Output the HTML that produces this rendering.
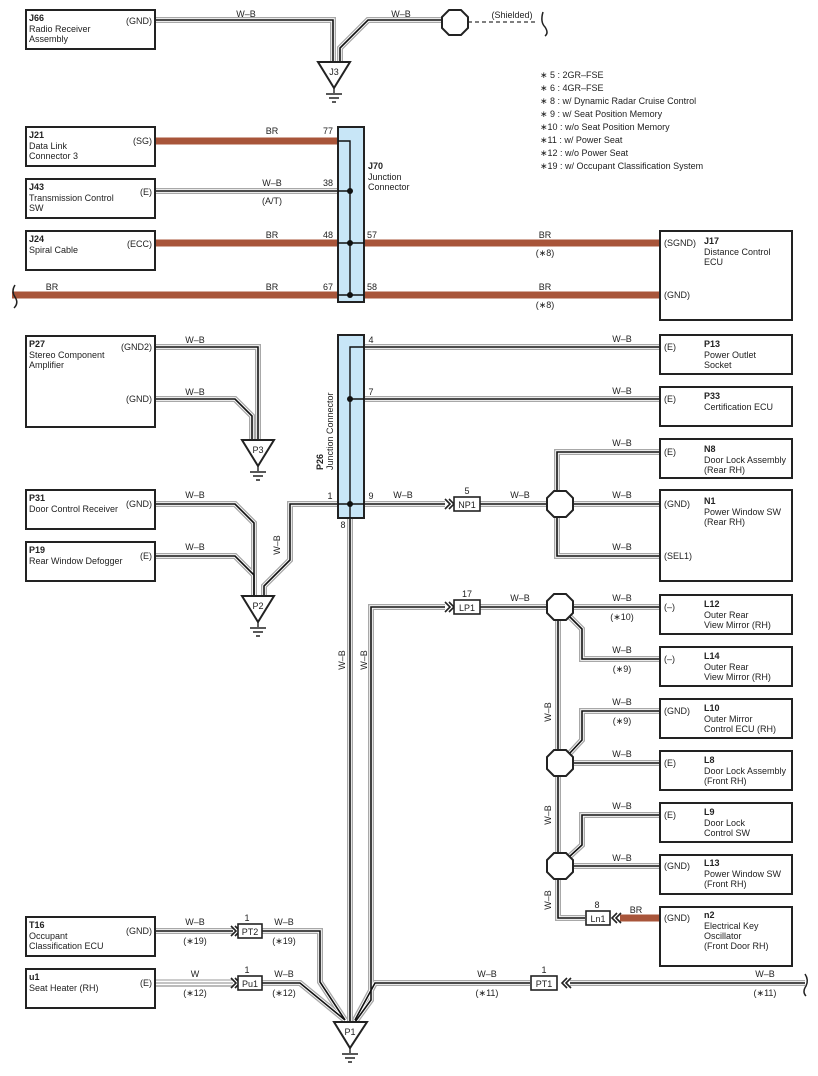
<!DOCTYPE html>
<html><head><meta charset="utf-8"><style>
html,body{margin:0;padding:0;background:#fff}
svg{display:block}
text{font-family:"Liberation Sans",sans-serif;font-size:9px;fill:#222}
.b{font-weight:bold}
.w0{fill:none;stroke:#a8a8a8;stroke-width:6}
.w1{fill:none;stroke:#fff;stroke-width:3.4}
.w2{fill:none;stroke:#111;stroke-width:1.6}
.br{fill:none;stroke:#a8553a;stroke-width:7}
.bx{fill:#fff;stroke:#222;stroke-width:2}
.oc{fill:#fff;stroke:#222;stroke-width:2}
.c{text-anchor:middle}
.r{text-anchor:end}
</style></head><body>
<svg width="818" height="1076" viewBox="0 0 818 1076" xmlns="http://www.w3.org/2000/svg">
<defs>
<g id="wires">
<path d="M155 20 H333 V62"/>
<path d="M443 20 H368 L340 48 V62"/>
<path d="M155 191 H338"/>
<path d="M155 347 H258 V440"/>
<path d="M155 399 H235 L252 416 V440"/>
<path d="M155 504 H235 L254 523 V596"/>
<path d="M155 556 H235 L254 575 V596"/>
<path d="M338 504 H290 V560 L264 586 V596"/>
<path d="M364 347 H660"/>
<path d="M364 399 H660"/>
<path d="M364 504 H445"/>
<path d="M480 504 H547"/>
<path d="M573 504 H660"/>
<path d="M660 452 H557 V491"/>
<path d="M660 556 H557 V517"/>
<path d="M350 518 V1022"/>
<path d="M445 607 H371 V1000 L355 1022"/>
<path d="M480 607 H547"/>
<path d="M573 607 H660"/>
<path d="M570 617 L582 629 V659 H660"/>
<path d="M660 711 H582 V740 L569 754"/>
<path d="M573 763 H660"/>
<path d="M660 815 H582 V845 L569 857"/>
<path d="M573 866 H660"/>
<path d="M558 620 V750"/>
<path d="M558 776 V853"/>
<path d="M558 879 V918 H585"/>
<path d="M155 931 H233"/>
<path d="M262 931 H320 V982 L345 1020"/>
<path d="M262 983 H300 L345 1020"/>
<path d="M530 983 H375 L355 1020"/>
<path d="M570 983 H805"/>
</g>
</defs>
<use href="#wires" class="w0"/>
<use href="#wires" class="w1"/>
<use href="#wires" class="w2"/>
<path d="M155 983 H233" fill="none" stroke="#fff" stroke-width="3"/>
<path d="M155 980 H233" fill="none" stroke="#999" stroke-width="1"/>
<path d="M155 986 H233" fill="none" stroke="#bbb" stroke-width="2"/>
<path d="M155 983 H233" fill="none" stroke="#888" stroke-width="1"/>
<path class="br" d="M155 141 H338"/>
<path class="br" d="M155 243 H338 M364 243 H660"/>
<path class="br" d="M12 295 H338 M364 295 H660"/>
<path class="br" d="M620 918 H660"/>
<path d="M468 22 H538" stroke="#555" stroke-width="1.5" stroke-dasharray="4,3" fill="none"/>
<path d="M543 12 Q540 22 545 27 Q549 33 545 36" stroke="#222" stroke-width="1.5" fill="none"/>
<path d="M15 285 Q11 291 15 297 Q19 303 14 308" stroke="#222" stroke-width="1.5" fill="none"/>
<path d="M805 974 Q809 980 806 986 Q802 992 806 996" stroke="#222" stroke-width="1.5" fill="none"/>
<rect class="bx" x="26" y="10" width="129" height="39"/>
<rect class="bx" x="26" y="127" width="129" height="39"/>
<rect class="bx" x="26" y="179" width="129" height="39"/>
<rect class="bx" x="26" y="231" width="129" height="39"/>
<rect class="bx" x="26" y="336" width="129" height="91"/>
<rect class="bx" x="26" y="490" width="129" height="39"/>
<rect class="bx" x="26" y="542" width="129" height="39"/>
<rect class="bx" x="26" y="917" width="129" height="39"/>
<rect class="bx" x="26" y="969" width="129" height="39"/>
<rect class="bx" x="660" y="231" width="132" height="89"/>
<rect class="bx" x="660" y="335" width="132" height="39"/>
<rect class="bx" x="660" y="387" width="132" height="39"/>
<rect class="bx" x="660" y="439" width="132" height="39"/>
<rect class="bx" x="660" y="490" width="132" height="91"/>
<rect class="bx" x="660" y="595" width="132" height="39"/>
<rect class="bx" x="660" y="647" width="132" height="39"/>
<rect class="bx" x="660" y="699" width="132" height="39"/>
<rect class="bx" x="660" y="751" width="132" height="39"/>
<rect class="bx" x="660" y="803" width="132" height="39"/>
<rect class="bx" x="660" y="855" width="132" height="39"/>
<rect class="bx" x="660" y="907" width="132" height="59"/>
<rect x="338" y="127" width="26" height="175" fill="#c8e6f7" stroke="#222" stroke-width="2"/>
<path d="M338 141 H350 V295 M338 191 H350 M338 243 H364 M338 295 H364" stroke="#111" stroke-width="1.4" fill="none"/>
<circle cx="350" cy="191" r="3" fill="#111"/><circle cx="350" cy="243" r="3" fill="#111"/><circle cx="350" cy="295" r="3" fill="#111"/>
<rect x="338" y="335" width="26" height="183" fill="#c8e6f7" stroke="#222" stroke-width="2"/>
<path d="M364 347 H350 V518 M350 399 H364 M338 504 H364" stroke="#111" stroke-width="1.4" fill="none"/>
<circle cx="350" cy="399" r="3" fill="#111"/><circle cx="350" cy="504" r="3" fill="#111"/>
<g stroke="#222" stroke-width="2" fill="#fff">
<path d="M318 62 H350 L334 88 Z"/>
<path d="M242 440 H274 L258 466 Z"/>
<path d="M242 596 H274 L258 622 Z"/>
<path d="M334 1022 H367 L350 1048 Z"/>
</g>
<g stroke="#222" stroke-width="1.4" fill="none">
<path d="M334 88 V93 M326 94 H342 M329 98 H339 M332 102 H336"/>
<path d="M258 466 V471 M250 472 H266 M253 476 H263 M256 480 H260"/>
<path d="M258 622 V627 M250 628 H266 M253 632 H263 M256 636 H260"/>
<path d="M350 1048 V1053 M342 1054 H358 M345 1058 H355 M348 1062 H352"/>
</g>
<g class="oc">
<path class="oc" d="M449 10 H461 L468 17 V28 L461 35 H449 L442 28 V17 Z"/>
<path class="oc" d="M554 491 H566 L573 498 V510 L566 517 H554 L547 510 V498 Z"/>
<path class="oc" d="M554 594 H566 L573 601 V613 L566 620 H554 L547 613 V601 Z"/>
<path class="oc" d="M554 750 H566 L573 757 V769 L566 776 H554 L547 769 V757 Z"/>
<path class="oc" d="M554 853 H566 L573 860 V872 L566 879 H554 L547 872 V860 Z"/>
</g>
<g stroke="#222" stroke-width="1.6" fill="none">
<path d="M445 499 L450 504 L445 509 M449 499 L454 504 L449 509"/>
<path d="M445 602 L450 607 L445 612 M449 602 L454 607 L449 612"/>
<path d="M231 926 L236 931 L231 936 M235 926 L240 931 L235 936"/>
<path d="M231 978 L236 983 L231 988 M235 978 L240 983 L235 988"/>
<path d="M567 978 L562 983 L567 988 M571 978 L566 983 L571 988"/>
<path d="M617 913 L612 918 L617 923 M621 913 L616 918 L621 923"/>
</g>
<g fill="#fff" stroke="#222" stroke-width="1.6">
<rect x="454" y="497" width="26" height="14"/>
<rect x="454" y="600" width="26" height="14"/>
<rect x="238" y="924" width="24" height="14"/>
<rect x="238" y="976" width="24" height="14"/>
<rect x="531" y="976" width="26" height="14"/>
<rect x="586" y="911" width="24" height="14"/>
</g>
<text x="467" y="508" class="c">NP1</text><text x="467" y="494" class="c">5</text>
<text x="467" y="611" class="c">LP1</text><text x="467" y="597" class="c">17</text>
<text x="250" y="935" class="c">PT2</text><text x="247" y="921" class="c">1</text>
<text x="250" y="987" class="c">Pu1</text><text x="247" y="973" class="c">1</text>
<text x="544" y="987" class="c">PT1</text><text x="544" y="973" class="c">1</text>
<text x="598" y="922" class="c">Ln1</text><text x="597" y="908" class="c">8</text>
<text x="334" y="75" class="c">J3</text><text x="258" y="453" class="c">P3</text><text x="258" y="609" class="c">P2</text><text x="350" y="1035" class="c">P1</text>
<text x="29" y="21" class="b">J66</text><text x="29" y="32">Radio Receiver</text><text x="29" y="42">Assembly</text><text x="152" y="24" class="r">(GND)</text>
<text x="29" y="138" class="b">J21</text><text x="29" y="149">Data Link</text><text x="29" y="159">Connector 3</text><text x="152" y="144" class="r">(SG)</text>
<text x="29" y="190" class="b">J43</text><text x="29" y="201">Transmission Control</text><text x="29" y="211">SW</text><text x="152" y="195" class="r">(E)</text>
<text x="29" y="242" class="b">J24</text><text x="29" y="253">Spiral Cable</text><text x="152" y="247" class="r">(ECC)</text>
<text x="29" y="347" class="b">P27</text><text x="29" y="358">Stereo Component</text><text x="29" y="368">Amplifier</text><text x="152" y="350" class="r">(GND2)</text><text x="152" y="402" class="r">(GND)</text>
<text x="29" y="501" class="b">P31</text><text x="29" y="512">Door Control Receiver</text><text x="152" y="507" class="r">(GND)</text>
<text x="29" y="553" class="b">P19</text><text x="29" y="564">Rear Window Defogger</text><text x="152" y="559" class="r">(E)</text>
<text x="29" y="928" class="b">T16</text><text x="29" y="939">Occupant</text><text x="29" y="949">Classification ECU</text><text x="152" y="934" class="r">(GND)</text>
<text x="29" y="980" class="b">u1</text><text x="29" y="991">Seat Heater (RH)</text><text x="152" y="986" class="r">(E)</text>
<g>
<text x="664" y="246">(SGND)</text><text x="664" y="298">(GND)</text><text x="704" y="244" class="b">J17</text><text x="704" y="255">Distance Control</text><text x="704" y="265">ECU</text>
<text x="664" y="350">(E)</text><text x="704" y="347" class="b">P13</text><text x="704" y="358">Power Outlet</text><text x="704" y="368">Socket</text>
<text x="664" y="402">(E)</text><text x="704" y="399" class="b">P33</text><text x="704" y="410">Certification ECU</text>
<text x="664" y="455">(E)</text><text x="704" y="452" class="b">N8</text><text x="704" y="463">Door Lock Assembly</text><text x="704" y="473">(Rear RH)</text>
<text x="664" y="507">(GND)</text><text x="704" y="504" class="b">N1</text><text x="704" y="515">Power Window SW</text><text x="704" y="525">(Rear RH)</text><text x="664" y="559">(SEL1)</text>
<text x="664" y="610">(–)</text><text x="704" y="607" class="b">L12</text><text x="704" y="618">Outer Rear</text><text x="704" y="628">View Mirror (RH)</text>
<text x="664" y="662">(–)</text><text x="704" y="659" class="b">L14</text><text x="704" y="670">Outer Rear</text><text x="704" y="680">View Mirror (RH)</text>
<text x="664" y="714">(GND)</text><text x="704" y="711" class="b">L10</text><text x="704" y="722">Outer Mirror</text><text x="704" y="732">Control ECU (RH)</text>
<text x="664" y="766">(E)</text><text x="704" y="763" class="b">L8</text><text x="704" y="774">Door Lock Assembly</text><text x="704" y="784">(Front RH)</text>
<text x="664" y="818">(E)</text><text x="704" y="815" class="b">L9</text><text x="704" y="826">Door Lock</text><text x="704" y="836">Control SW</text>
<text x="664" y="869">(GND)</text><text x="704" y="866" class="b">L13</text><text x="704" y="877">Power Window SW</text><text x="704" y="887">(Front RH)</text>
<text x="664" y="921">(GND)</text><text x="704" y="918" class="b">n2</text><text x="704" y="929">Electrical Key</text><text x="704" y="939">Oscillator</text><text x="704" y="949">(Front Door RH)</text>
</g>
<text x="368" y="169" class="b">J70</text><text x="368" y="180">Junction</text><text x="368" y="190">Connector</text>
<text transform="translate(323,470) rotate(-90)" class="b">P26</text>
<text transform="translate(333,470) rotate(-90)">Junction Connector</text>
<g class="c">
<text x="246" y="17">W–B</text><text x="401" y="17">W–B</text><text x="512" y="18">(Shielded)</text>
<text x="272" y="134">BR</text><text x="328" y="134">77</text>
<text x="272" y="186">W–B</text><text x="328" y="186">38</text><text x="272" y="204">(A/T)</text>
<text x="272" y="238">BR</text><text x="328" y="238">48</text><text x="372" y="238">57</text><text x="545" y="238">BR</text><text x="545" y="256">(∗8)</text>
<text x="52" y="290">BR</text><text x="272" y="290">BR</text><text x="328" y="290">67</text><text x="372" y="290">58</text><text x="545" y="290">BR</text><text x="545" y="308">(∗8)</text>
<text x="195" y="343">W–B</text><text x="195" y="395">W–B</text><text x="195" y="498">W–B</text><text x="195" y="550">W–B</text>
<text x="371" y="343">4</text><text x="371" y="395">7</text><text x="330" y="499">1</text><text x="371" y="499">9</text><text x="343" y="528">8</text>
<text x="403" y="498">W–B</text><text x="520" y="498">W–B</text><text x="520" y="601">W–B</text>
<text x="622" y="342">W–B</text><text x="622" y="394">W–B</text><text x="622" y="446">W–B</text><text x="622" y="498">W–B</text><text x="622" y="550">W–B</text>
<text x="622" y="601">W–B</text><text x="622" y="620">(∗10)</text>
<text x="622" y="653">W–B</text><text x="622" y="672">(∗9)</text>
<text x="622" y="705">W–B</text><text x="622" y="724">(∗9)</text>
<text x="622" y="757">W–B</text><text x="622" y="809">W–B</text><text x="622" y="861">W–B</text><text x="636" y="913">BR</text>
<text x="195" y="925">W–B</text><text x="195" y="944">(∗19)</text><text x="284" y="925">W–B</text><text x="284" y="944">(∗19)</text>
<text x="195" y="977">W</text><text x="195" y="996">(∗12)</text><text x="284" y="977">W–B</text><text x="284" y="996">(∗12)</text>
<text x="487" y="977">W–B</text><text x="487" y="996">(∗11)</text><text x="765" y="977">W–B</text><text x="765" y="996">(∗11)</text>
</g>
<text transform="translate(280,545) rotate(-90)" class="c">W–B</text>
<text transform="translate(345,660) rotate(-90)" class="c">W–B</text>
<text transform="translate(367,660) rotate(-90)" class="c">W–B</text>
<text transform="translate(551,712) rotate(-90)" class="c">W–B</text>
<text transform="translate(551,815) rotate(-90)" class="c">W–B</text>
<text transform="translate(551,900) rotate(-90)" class="c">W–B</text>
<g font-size="9">
<text x="540" y="78">∗ 5 : 2GR–FSE</text>
<text x="540" y="91">∗ 6 : 4GR–FSE</text>
<text x="540" y="104">∗ 8 : w/ Dynamic Radar Cruise Control</text>
<text x="540" y="117">∗ 9 : w/ Seat Position Memory</text>
<text x="540" y="130">∗10 : w/o Seat Position Memory</text>
<text x="540" y="143">∗11 : w/ Power Seat</text>
<text x="540" y="156">∗12 : w/o Power Seat</text>
<text x="540" y="169">∗19 : w/ Occupant Classification System</text>
</g>
</svg>
</body></html>
